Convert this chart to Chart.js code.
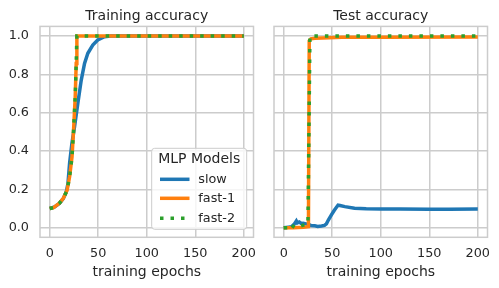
<!DOCTYPE html>
<html>
<head>
<meta charset="utf-8">
<script src="https://cdn.jsdelivr.net/npm/chart.js@4.4.0/dist/chart.umd.min.js"></script>
<style>
  html, body { margin: 0; padding: 0; background: #fff; }
  #wrap { position: relative; width: 499px; height: 288px; overflow: hidden; }
  canvas { position: absolute; top: 0; }
  #trainCanvas { left: 0; }
  #testCanvas { left: 262px; }
</style>
</head>
<body>
<div id="wrap">
  <canvas id="trainCanvas" width="262" height="288"></canvas>
  <canvas id="testCanvas" width="237" height="288"></canvas>
</div>
<script>
// 数据
const seriesNames = ['slow', 'fast-1', 'fast-2']
const seriesColors = ['#1f77b4', '#ff7f0e', '#2ca02c']
const xTicks = [0, 50, 100, 150, 200]
const yTicks = [0, 0.2, 0.4, 0.6, 0.8, 1.0]

// 训练准确率
const trainSlowEpochs = [0, 5, 10, 14, 17, 18.8, 20.5, 22.9, 25.6, 29, 32.5, 35.9, 39.3, 44.4, 49.5, 56.4, 63, 200]
const trainSlowAcc = [0.10, 0.108, 0.127, 0.152, 0.185, 0.23, 0.336, 0.44, 0.527, 0.649, 0.77, 0.857, 0.91, 0.953, 0.979, 0.996, 1.0, 1.0]
const trainFastEpochs = [0, 4, 7, 10, 14, 18, 20.5, 23, 24.6, 26.3, 27.3, 28, 200]
const trainFast1Acc = [0.10, 0.105, 0.117, 0.128, 0.153, 0.197, 0.266, 0.37, 0.51, 0.683, 0.857, 1.0, 1.0]
const trainFast2Acc = [0.10, 0.105, 0.117, 0.128, 0.153, 0.197, 0.266, 0.37, 0.51, 0.683, 0.857, 1.0, 1.0]

// 测试准确率
const testSlowEpochs = [0, 5, 8, 11, 13, 14, 16, 18, 20, 23, 25, 28, 32, 35, 39, 42, 44, 46, 49, 52, 56, 58, 63, 73, 85, 100, 120, 150, 170, 200]
const testSlowAcc = [0, 0.003, 0.005, 0.02, 0.035, 0.025, 0.03, 0.022, 0.023, 0.02, 0.018, 0.012, 0.01, 0.007, 0.009, 0.012, 0.02, 0.04, 0.066, 0.09, 0.118, 0.116, 0.11, 0.102, 0.099, 0.098, 0.098, 0.096, 0.096, 0.097]
const testFast1Epochs = [0, 10, 20, 25.5, 26.3, 28, 32, 40, 60, 100, 200]
const testFast1Acc = [0, 0, 0.002, 0.005, 0.975, 0.985, 0.988, 0.99, 0.993, 0.994, 0.995]
const testFast2Epochs = [0, 4, 7, 9, 12, 15, 18, 21, 25, 26.2, 27, 200]
const testFast2Acc = [0, 0, 0.02, 0.01, 0, 0.005, 0.01, 0.015, 0.02, 0.6, 1.0, 1.0]

const textColor = '#262626'
const gridColor = '#cccccc'
const fontFamily = '"DejaVu Sans", sans-serif'

function toPoints(epochs, values) {
  return epochs.map((e, i) => ({ x: e, y: values[i] }))
}

// 三条曲线
function makeDatasets(slow, fast1, fast2) {
  return [
    { label: seriesNames[0], data: slow, borderColor: seriesColors[0], order: 3 },
    { label: seriesNames[1], data: fast1, borderColor: seriesColors[1], order: 2 },
    { label: seriesNames[2], data: fast2, borderColor: seriesColors[2], borderDash: [3.5, 7], order: 1 }
  ].map(ds => Object.assign({
    borderWidth: 3.5,
    pointRadius: 0,
    tension: 0,
    fill: false,
    borderCapStyle: 'butt'
  }, ds))
}

// 标题
function titlePlugin(text) {
  return {
    id: 'panelTitle',
    afterDraw(chart) {
      const { ctx, chartArea } = chart
      ctx.save()
      ctx.font = '14px ' + fontFamily
      ctx.fillStyle = textColor
      ctx.textAlign = 'center'
      ctx.textBaseline = 'alphabetic'
      ctx.fillText(text, (chartArea.left + chartArea.right) / 2, 19.5)
      ctx.restore()
    }
  }
}

// 边框
const framePlugin = {
  id: 'frame',
  afterDatasetsDraw(chart) {
    const { ctx, chartArea } = chart
    ctx.save()
    ctx.strokeStyle = gridColor
    ctx.lineWidth = 1.5
    ctx.strokeRect(chartArea.left, chartArea.top, chartArea.right - chartArea.left, chartArea.bottom - chartArea.top)
    ctx.restore()
  }
}

// 图例（只在左图）
const legendPlugin = {
  id: 'mlpLegend',
  afterDraw(chart) {
    const ctx = chart.ctx
    const x = 151.7, y = 148.3, w = 95, h = 81
    ctx.save()
    ctx.beginPath()
    ctx.roundRect(x, y, w, h, 3)
    ctx.fillStyle = 'rgba(255,255,255,0.8)'
    ctx.fill()
    ctx.strokeStyle = gridColor
    ctx.lineWidth = 1
    ctx.stroke()

    ctx.fillStyle = textColor
    ctx.textBaseline = 'middle'
    ctx.textAlign = 'center'
    ctx.font = '14px ' + fontFamily
    ctx.fillText('MLP Models', x + w / 2, 159.5)

    const rows = [179.3, 198.3, 218.3]
    ctx.textAlign = 'left'
    ctx.font = '12.8px ' + fontFamily
    seriesNames.forEach((name, i) => {
      ctx.beginPath()
      ctx.strokeStyle = seriesColors[i]
      ctx.lineWidth = 3.5
      ctx.lineCap = 'butt'
      ctx.setLineDash(i === 2 ? [3.5, 7] : [])
      ctx.moveTo(160, rows[i])
      ctx.lineTo(189.5, rows[i])
      ctx.stroke()
      ctx.setLineDash([])
      ctx.fillStyle = textColor
      ctx.fillText(name, 198.3, rows[i] + 0.5)
    })
    ctx.restore()
  }
}

// 去掉刻度标签带来的额外边距
function noLabelPadding(s) {
  s.paddingLeft = 0
  s.paddingRight = 0
  s.paddingTop = 0
  s.paddingBottom = 0
}

function makeOptions(showY, padding) {
  return {
    responsive: false,
    animation: false,
    devicePixelRatio: 1,
    layout: { padding: padding },
    plugins: { legend: { display: false }, tooltip: { enabled: false } },
    scales: {
      x: {
        type: 'linear',
        min: -10,
        max: 210,
        afterBuildTicks: s => { s.ticks = xTicks.map(v => ({ value: v })) },
        afterFit: s => { s.height = 50.7; noLabelPadding(s) },
        ticks: {
          autoSkip: false,
          maxRotation: 0,
          padding: 9,
          color: textColor,
          font: { family: fontFamily, size: 12.8 },
          callback: v => String(v)
        },
        grid: { color: gridColor, lineWidth: 1.5, drawTicks: false },
        border: { display: false },
        title: {
          display: true,
          text: 'training epochs',
          color: textColor,
          font: { family: fontFamily, size: 14 },
          padding: { top: 0, bottom: 7.5 }
        }
      },
      y: {
        type: 'linear',
        min: -0.05,
        max: 1.05,
        afterBuildTicks: s => { s.ticks = yTicks.map(v => ({ value: v })) },
        afterFit: s => { s.width = showY ? 40 : 0; noLabelPadding(s) },
        ticks: {
          display: showY,
          padding: 11,
          color: textColor,
          font: { family: fontFamily, size: 12.8 },
          callback: v => v.toFixed(1)
        },
        grid: { color: gridColor, lineWidth: 1.5, drawTicks: false },
        border: { display: false }
      }
    }
  }
}

// 左图：训练
new Chart(document.getElementById('trainCanvas'), {
  type: 'line',
  data: {
    datasets: makeDatasets(
      toPoints(trainSlowEpochs, trainSlowAcc),
      toPoints(trainFastEpochs, trainFast1Acc),
      toPoints(trainFastEpochs, trainFast2Acc)
    )
  },
  options: makeOptions(true, { top: 26.4, left: 0, right: 8.5, bottom: 0 }),
  plugins: [titlePlugin('Training accuracy'), framePlugin, legendPlugin]
})

// 右图：测试
new Chart(document.getElementById('testCanvas'), {
  type: 'line',
  data: {
    datasets: makeDatasets(
      toPoints(testSlowEpochs, testSlowAcc),
      toPoints(testFast1Epochs, testFast1Acc),
      toPoints(testFast2Epochs, testFast2Acc)
    )
  },
  options: makeOptions(false, { top: 26.4, left: 12, right: 11.5, bottom: 0 }),
  plugins: [titlePlugin('Test accuracy'), framePlugin]
})
</script>
</body>
</html>
